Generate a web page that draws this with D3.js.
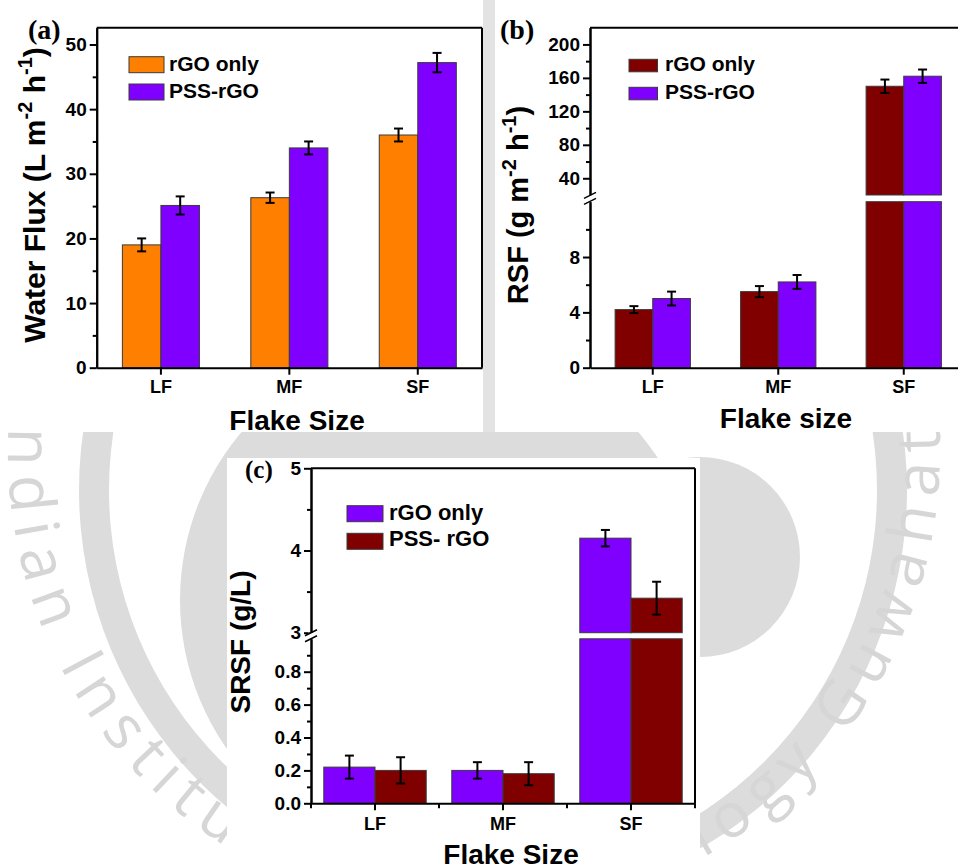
<!DOCTYPE html>
<html>
<head>
<meta charset="utf-8">
<script src="https://cdn.jsdelivr.net/npm/d3@7"></script>
<style>
  html, body { margin: 0; padding: 0; background: #fff; }
  svg { display: block; }
  .tick text { font-family: "Liberation Sans", Arial, sans-serif; font-weight: bold; fill: #000; }
</style>
</head>
<body>
<script>
// ---------- data ----------
const categories = ["LF", "MF", "SF"];

// (a) water flux, L m-2 h-1
const fluxRGO = [19.0, 26.3, 36.0];
const fluxRGOErr = [1.0, 0.8, 1.0];
const fluxPSS = [25.1, 34.0, 47.2];
const fluxPSSErr = [1.4, 1.0, 1.5];
const fluxTicks = [0, 10, 20, 30, 40, 50];
const fluxMinor = [5, 15, 25, 35, 45];

// (b) reverse solute flux, g m-2 h-1
const rsfRGO = [4.2, 5.5, 150];
const rsfRGOErr = [0.25, 0.4, 8];
const rsfPSS = [5.0, 6.2, 162];
const rsfPSSErr = [0.5, 0.5, 8];
const rsfTicksLow = [0, 4, 8];
const rsfMinorLow = [2, 6, 10];
const rsfTicksHigh = [40, 80, 120, 160, 200];
const rsfMinorHigh = [60, 100, 140, 180];

// (c) specific reverse solute flux, g/L
const srsfRGO = [0.22, 0.20, 4.15];
const srsfRGOErr = [0.07, 0.05, 0.1];
const srsfPSS = [0.20, 0.18, 3.42];
const srsfPSSErr = [0.08, 0.07, 0.2];
const srsfTicksLow = [0.0, 0.2, 0.4, 0.6, 0.8];
const srsfMinorLow = [0.1, 0.3, 0.5, 0.7, 0.9];
const srsfTicksHigh = [3, 4, 5];
const srsfMinorHigh = [3.5, 4.5];

const ORANGE = "#FF8000", PURPLE = "#8000FF", MAROON = "#800000";
const SANS = '"Liberation Sans", Arial, Helvetica, sans-serif';
const SERIF = '"Liberation Serif", "Times New Roman", serif';

const W = 958, H = 867;
const svg = d3.select("body").append("svg").attr("width", W).attr("height", H);
svg.append("rect").attr("width", W).attr("height", H).attr("fill", "#fff");

// white sheets the three panels sit on
const sheets = [
  {x: 10, y: 0, w: 473, h: 432},
  {x: 495, y: 0, w: 463, h: 432},
  {x: 227, y: 458, w: 473, h: 409}
];
const gapStrip = {x: 483, y: 0, w: 12, h: 432};

// ---------- background seal ----------
const seal = svg.append("g").attr("fill", "#dcdcdc");
seal.append("path")
  .attr("d", d3.arc()({innerRadius: 384, outerRadius: 414, startAngle: 0, endAngle: 2 * Math.PI}))
  .attr("transform", "translate(493,490)");
seal.append("circle").attr("cx", 440).attr("cy", 600).attr("r", 260);
seal.append("circle").attr("cx", 700).attr("cy", 557).attr("r", 100);

// institute name set letter by letter round the seal (reads anticlockwise, tops inward)
const sealName = "Indian Institute of Technology Guwahati";
const tc = [474, 452], R = 466, FS = 62;
const aStart = 186.5 * Math.PI / 180, aSpan = 192.5 * Math.PI / 180;
const nameG = svg.append("g").attr("font-family", '"Open Sans", "DejaVu Sans", sans-serif')
  .attr("font-size", FS).attr("fill", "#d6d6d6");
const probe = nameG.append("text").attr("x", -999).attr("y", -999);
const widths = sealName.split("").map(ch => {
  probe.text(ch === " " ? "\u00a0" : ch);
  return probe.node().getComputedTextLength();
});
probe.remove();
const natural = d3.sum(widths);
const gap = (aSpan * R - natural) / (sealName.length - 1);
const covered = (px, py) => [...sheets, gapStrip].some(r =>
  px >= r.x && px <= r.x + r.w && py >= r.y && py <= r.y + r.h);
let run = 0;
sealName.split("").forEach((ch, i) => {
  const mid = run + widths[i] / 2;
  run += widths[i] + gap;
  if (ch === " ") return;
  const th = aStart - mid / R;
  const bx = tc[0] + R * Math.cos(th), by = tc[1] + R * Math.sin(th);
  const gx = tc[0] + (R - 22) * Math.cos(th), gy = tc[1] + (R - 22) * Math.sin(th);
  const corners = [[-22, -22], [22, -22], [-22, 22], [22, 22]];
  if (corners.every(([dx, dy]) => covered(gx + dx, gy + dy))) return;
  const rot = Math.atan2(-Math.cos(th), Math.sin(th)) * 180 / Math.PI;
  nameG.append("text").attr("text-anchor", "middle")
    .attr("transform", `translate(${bx},${by}) rotate(${rot})`)
    .text(ch);
});

// panel sheets
svg.append("rect").attr("x", gapStrip.x).attr("y", gapStrip.y).attr("width", gapStrip.w)
  .attr("height", gapStrip.h).attr("fill", "#e3e3e3");
sheets.forEach(r => svg.append("rect").attr("x", r.x).attr("y", r.y)
  .attr("width", r.w).attr("height", r.h).attr("fill", "#fff"));

// ---------- helpers ----------
function brokenScale(lowDom, lowRange, highDom, highRange) {
  const lo = d3.scaleLinear().domain(lowDom).range(lowRange);
  const hi = highDom ? d3.scaleLinear().domain(highDom).range(highRange) : null;
  return {lo, hi, lowMax: lowDom[1], highMin: highDom ? highDom[0] : null,
          y: v => (!hi || v <= lowDom[1]) ? lo(v) : hi(v)};
}

function styleAxis(g, fs) {
  g.selectAll("path.domain").attr("stroke", "#000").attr("stroke-width", 2);
  g.selectAll(".tick line").attr("stroke", "#000").attr("stroke-width", 2);
  g.selectAll(".tick text").attr("font-size", fs);
}

function drawPanel(cfg) {
  const g = svg.append("g");
  const {left, right, top, bottom, s} = cfg;
  const x = d3.scaleBand().domain(categories).range([left, right]).paddingInner(0).paddingOuter(0);
  const inner = d3.scaleBand().domain(cfg.series.map(d => d.name))
    .range([-x.step() * cfg.pairFrac / 2, x.step() * cfg.pairFrac / 2]);

  // bars
  cfg.series.forEach(ser => {
    categories.forEach((c, i) => {
      const v = ser.values[i];
      const bx = x(c) + x.step() / 2 + inner(ser.name);
      const bw = inner.bandwidth();
      const pieces = [];
      if (s.hi && v > s.lowMax) {
        pieces.push([s.lo(s.lowMax), s.lo(0)]);
        pieces.push([s.hi(v), s.hi(s.highMin)]);
      } else {
        pieces.push([s.lo(v), s.lo(0)]);
      }
      pieces.forEach(([y0, y1]) => {
        g.append("rect").attr("x", bx).attr("y", y0).attr("width", bw).attr("height", y1 - y0)
          .attr("fill", ser.color).attr("stroke", "#3a3a3a").attr("stroke-width", 1);
      });
      // error bar
      const e = ser.errs[i];
      const cx = bx + bw / 2, ya = s.y(v + e), yb = s.y(v - e);
      const eb = g.append("g").attr("stroke", "#000").attr("stroke-width", 2);
      eb.append("line").attr("x1", cx).attr("x2", cx).attr("y1", ya).attr("y2", yb);
      eb.append("line").attr("x1", cx - 4.5).attr("x2", cx + 4.5).attr("y1", ya).attr("y2", ya);
      eb.append("line").attr("x1", cx - 4.5).attr("x2", cx + 4.5).attr("y1", yb).attr("y2", yb);
    });
  });

  // frame
  g.append("line").attr("x1", left).attr("x2", right).attr("y1", top).attr("y2", top)
    .attr("stroke", "#000").attr("stroke-width", 2);
  g.append("line").attr("x1", right).attr("x2", right).attr("y1", top).attr("y2", bottom)
    .attr("stroke", "#000").attr("stroke-width", 2);

  // x axis
  const xa = g.append("g").attr("transform", `translate(0,${bottom})`)
    .call(d3.axisBottom(x).tickSize(7).tickSizeOuter(0).tickPadding(cfg.xPad));
  styleAxis(xa, 18);
  if (cfg.xBoundaryTicks) {
    const bnd = d3.range(categories.length + 1).map(k => left + k * x.step());
    g.selectAll(null).data(bnd).join("line")
      .attr("x1", d => d).attr("x2", d => d).attr("y1", bottom).attr("y2", bottom + 5)
      .attr("stroke", "#000").attr("stroke-width", 2);
  }

  // y axis (one or two segments)
  const segs = [{sc: s.lo, ticks: cfg.ticksLow, minor: cfg.minorLow}];
  if (s.hi) segs.push({sc: s.hi, ticks: cfg.ticksHigh, minor: cfg.minorHigh});
  segs.forEach(seg => {
    const ya = g.append("g").attr("transform", `translate(${left},0)`)
      .call(d3.axisLeft(seg.sc).tickValues(seg.ticks).tickSize(7).tickSizeOuter(0)
        .tickPadding(3).tickFormat(cfg.fmt));
    styleAxis(ya, 19);
    const ym = g.append("g").attr("transform", `translate(${left},0)`)
      .call(d3.axisLeft(seg.sc).tickValues(seg.minor).tickSize(4).tickSizeOuter(0));
    ym.selectAll(".tick text").remove();
    styleAxis(ym, 19);
  });
  if (s.hi) {
    const yb = (s.lo(s.lowMax) + s.hi(s.highMin)) / 2;
    g.append("rect").attr("x", left - 3).attr("y", yb - 3).attr("width", 6).attr("height", 6).attr("fill", "#fff");
    [-3, 3].forEach(o => {
      g.append("line").attr("x1", left - 6).attr("x2", left + 6)
        .attr("y1", yb + o + 3).attr("y2", yb + o - 3)
        .attr("stroke", "#000").attr("stroke-width", 1.5);
    });
  }

  // legend
  cfg.series.forEach((ser, k) => {
    const L = cfg.legend;
    g.append("rect").attr("x", L.x).attr("y", L.y[k]).attr("width", L.w).attr("height", L.h)
      .attr("fill", ser.color).attr("stroke", "#3a3a3a").attr("stroke-width", 1);
    g.append("text").attr("x", L.tx).attr("y", L.ty[k])
      .attr("font-family", SANS).attr("font-weight", "bold").attr("font-size", L.fs)
      .text(ser.label);
  });

  // panel tag
  g.append("text").attr("x", cfg.tag.x).attr("y", cfg.tag.y)
    .attr("font-family", SERIF).attr("font-weight", "bold").attr("font-size", cfg.tag.fs)
    .text(cfg.tag.text);

  // x title
  g.append("text").attr("x", cfg.xTitle.x).attr("y", cfg.xTitle.y).attr("text-anchor", "middle")
    .attr("font-family", SANS).attr("font-weight", "bold").attr("font-size", cfg.xTitle.fs)
    .text(cfg.xTitle.text);

  // y title (rotated, with superscripts)
  const yt = g.append("text")
    .attr("transform", `translate(${cfg.yTitle.x},${cfg.yTitle.y}) rotate(-90)`)
    .attr("text-anchor", "middle")
    .attr("font-family", SANS).attr("font-weight", "bold").attr("font-size", cfg.yTitle.fs);
  const fs = cfg.yTitle.fs, sup = Math.round(fs * 0.68), lift = Math.round(fs * 0.42);
  let raised = false;
  cfg.yTitle.parts.forEach(p => {
    const t = yt.append("tspan").text(p.t);
    if (p.sup && !raised) { t.attr("dy", -lift).attr("font-size", sup); raised = true; }
    else if (p.sup) { t.attr("font-size", sup); }
    else if (raised) { t.attr("dy", lift); raised = false; }
  });
}

// ---------- panel (a) ----------
drawPanel({
  left: 96.7, right: 482, top: 27.7, bottom: 367.7,
  s: brokenScale([0, 52.6], [367.7, 27.7]),
  ticksLow: fluxTicks, minorLow: fluxMinor, fmt: d3.format("d"),
  pairFrac: 0.6, xPad: 6,
  series: [
    {name: "r", label: "rGO only", values: fluxRGO, errs: fluxRGOErr, color: ORANGE},
    {name: "p", label: "PSS-rGO", values: fluxPSS, errs: fluxPSSErr, color: PURPLE}
  ],
  legend: {x: 129, y: [56.7, 84], w: 35, h: 16, tx: 169, ty: [70.7, 97.5], fs: 21},
  tag: {x: 28, y: 39, fs: 28, text: "(a)"},
  xTitle: {x: 297, y: 430, fs: 28, text: "Flake Size"},
  yTitle: {x: 45, y: 195, fs: 30, parts: [
    {t: "Water Flux (L m"}, {t: "-2", sup: true}, {t: " h"}, {t: "-1", sup: true}, {t: ")"}]}
});

// ---------- panel (b) ----------
drawPanel({
  left: 590, right: 966.5, top: 27.7, bottom: 367.7,
  s: brokenScale([0, 12], [367.7, 201.7], [20, 220], [195, 27.7]),
  ticksLow: rsfTicksLow, minorLow: rsfMinorLow,
  ticksHigh: rsfTicksHigh, minorHigh: rsfMinorHigh, fmt: d3.format("d"),
  pairFrac: 0.6, xPad: 6,
  series: [
    {name: "r", label: "rGO only", values: rsfRGO, errs: rsfRGOErr, color: MAROON},
    {name: "p", label: "PSS-rGO", values: rsfPSS, errs: rsfPSSErr, color: PURPLE}
  ],
  legend: {x: 629, y: [59.3, 87.3], w: 28.5, h: 12.5, tx: 665, ty: [71, 98.5], fs: 21},
  tag: {x: 500, y: 39, fs: 28, text: "(b)"},
  xTitle: {x: 786, y: 428, fs: 28, text: "Flake size"},
  yTitle: {x: 528, y: 205, fs: 29, parts: [
    {t: "RSF (g m"}, {t: "-2", sup: true}, {t: " h"}, {t: "-1", sup: true}, {t: ")"}]}
});

// ---------- panel (c) ----------
drawPanel({
  left: 311, right: 695, top: 468.3, bottom: 803.3,
  s: brokenScale([0, 1], [803.3, 638.8], [3, 5], [632.7, 468.3]),
  ticksLow: srsfTicksLow, minorLow: srsfMinorLow,
  ticksHigh: srsfTicksHigh, minorHigh: srsfMinorHigh,
  fmt: d => d >= 3 ? d3.format("d")(d) : d3.format(".1f")(d),
  pairFrac: 0.8, xPad: 7, xBoundaryTicks: true,
  series: [
    {name: "r", label: "rGO only", values: srsfRGO, errs: srsfRGOErr, color: PURPLE},
    {name: "p", label: "PSS- rGO", values: srsfPSS, errs: srsfPSSErr, color: MAROON}
  ],
  legend: {x: 347, y: [505.7, 533.3], w: 36, h: 16, tx: 389, ty: [520, 546], fs: 22},
  tag: {x: 245, y: 478, fs: 25, text: "(c)"},
  xTitle: {x: 511, y: 864, fs: 28, text: "Flake Size"},
  yTitle: {x: 250, y: 642, fs: 28, parts: [{t: "SRSF (g/L)"}]}
});
</script>
</body>
</html>
